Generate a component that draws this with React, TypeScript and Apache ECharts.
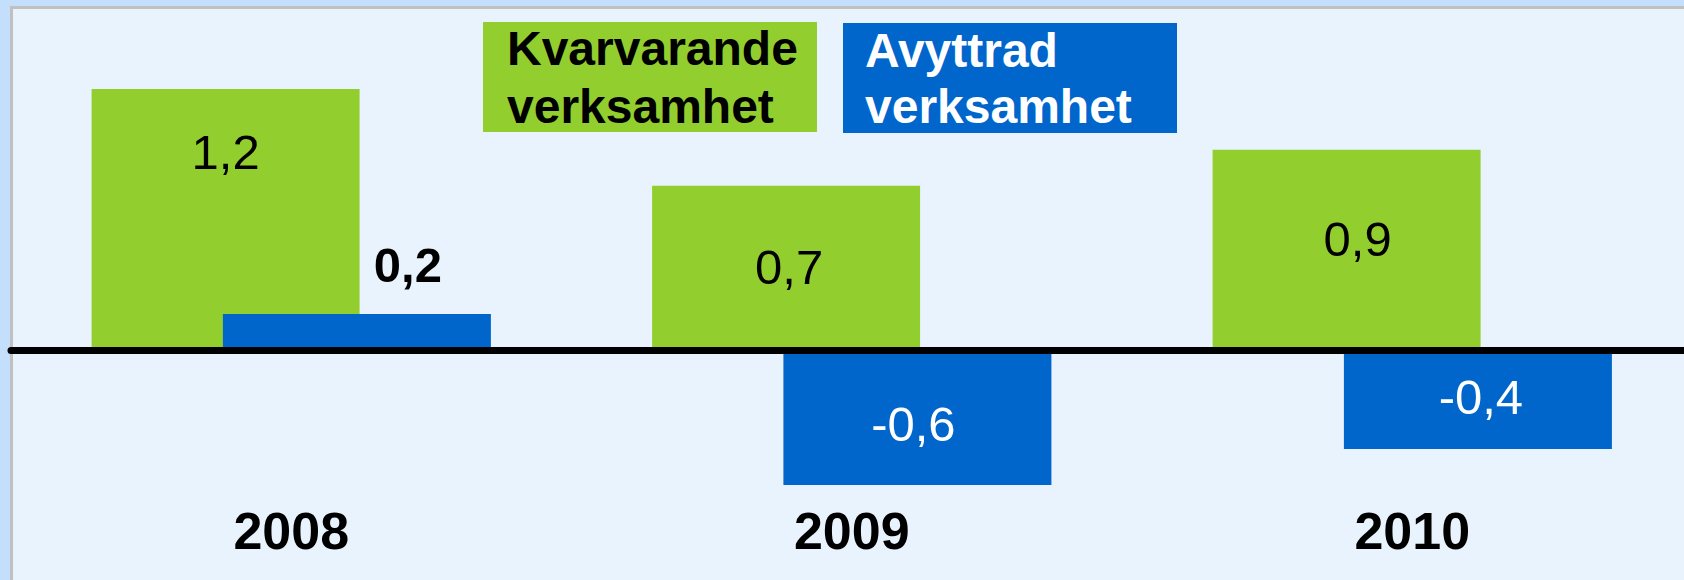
import React, { useEffect, useRef } from "react";
import * as echarts from "echarts";

const categories = ["2008", "2009", "2010"];
const kvarvarande = [1.16, 0.73, 0.89];
const avyttrad = [0.16, -0.6, -0.44];
const seriesNames = ["Kvarvarande verksamhet", "Avyttrad verksamhet"];

// label offsets (styling only)
const greenLabelOffsets = [[0, -68], [3, -1], [11, -11]];
const blueLabelOffsets = [[51, -67], [-4, 6], [3, -3]];

const FONT = "'Liberation Sans', Arial, Helvetica, sans-serif";
const GREEN = "#93CE2F";
const BLUE = "#0066CC";

const fmt = (p: any) => Number(p.value).toFixed(1).replace(".", ",");

export default function App() {
  const ref = useRef<HTMLDivElement>(null);
  useEffect(() => {
    if (!ref.current) return;
    const chart = echarts.init(ref.current, null, { renderer: "svg" });
    const greenData = kvarvarande.map((v, i) => ({
      value: v,
      label: { offset: greenLabelOffsets[i] },
    }));
    const blueData = avyttrad.map((v, i) => ({
      value: v,
      label:
        i === 0
          ? { offset: blueLabelOffsets[i], color: "#000", fontWeight: "bold" }
          : { offset: blueLabelOffsets[i] },
    }));
    chart.setOption({
      animation: false,
      backgroundColor: "transparent",
      grid: {
        left: 11,
        right: -8.5,
        top: 12.5,
        bottom: 83.75,
        containLabel: false,
        outerBoundsMode: "none",
      },
      xAxis: [
        {
          type: "category",
          data: categories,
          position: "top",
          z: 10,
          axisLine: { onZero: true, lineStyle: { color: "#000", width: 7 } },
          axisTick: { show: false },
          splitLine: { show: false },
          axisLabel: { show: false },
        },
        {
          type: "category",
          data: categories,
          position: "bottom",
          axisLine: { show: false, onZero: false },
          axisTick: { show: false },
          splitLine: { show: false },
          axisLabel: {
            margin: 9,
            fontSize: 52,
            fontWeight: "bold",
            color: "#000",
            fontFamily: FONT,
          },
        },
      ],
      yAxis: {
        type: "value",
        min: -0.65,
        max: 1.5,
        show: false,
        splitLine: { show: false },
      },
      graphic: [
        { type: "rect", z: -10, silent: true, shape: { x: 0, y: 0, width: 1684, height: 580 }, style: { fill: "#C3DFFC" } },
        { type: "rect", z: -9, silent: true, shape: { x: 10, y: 6, width: 1674, height: 574 }, style: { fill: "#C0C0C0" } },
        { type: "rect", z: -8, silent: true, shape: { x: 13, y: 9, width: 1671, height: 571 }, style: { fill: "#E9F3FD" } },
        { type: "rect", z: 20, shape: { x: 483, y: 22, width: 334, height: 110 }, style: { fill: GREEN } },
        { type: "text", z: 21, x: 507, y: 48.5, style: { text: "Kvarvarande", fill: "#000", font: `bold 48px ${FONT}`, verticalAlign: "middle", align: "left" } },
        { type: "text", z: 21, x: 507, y: 106.5, style: { text: "verksamhet", fill: "#000", font: `bold 48px ${FONT}`, verticalAlign: "middle", align: "left" } },
        { type: "rect", z: 20, shape: { x: 843, y: 23, width: 334, height: 110 }, style: { fill: BLUE } },
        { type: "text", z: 21, x: 865, y: 50.5, style: { text: "Avyttrad", fill: "#FFF", font: `bold 48px ${FONT}`, verticalAlign: "middle", align: "left" } },
        { type: "text", z: 21, x: 865, y: 106.5, style: { text: "verksamhet", fill: "#FFF", font: `bold 48px ${FONT}`, verticalAlign: "middle", align: "left" } },
      ],
      series: [
        {
          name: seriesNames[0],
          type: "bar",
          xAxisIndex: 0,
          data: greenData,
          barWidth: 268,
          barGap: "-51%",
          itemStyle: { color: GREEN },
          label: {
            show: true,
            position: "inside",
            formatter: fmt,
            fontSize: 49,
            color: "#000",
            fontFamily: FONT,
          },
        },
        {
          name: seriesNames[1],
          type: "bar",
          xAxisIndex: 0,
          data: blueData,
          barWidth: 268,
          barGap: "-51%",
          itemStyle: { color: BLUE },
          label: {
            show: true,
            position: "inside",
            formatter: fmt,
            fontSize: 49,
            color: "#FFF",
            fontFamily: FONT,
          },
        },
      ],
    });
    return () => chart.dispose();
  }, []);
  return (
    <div
      ref={ref}
      style={{ position: "absolute", left: 0, top: 0, width: 1684, height: 580 }}
    />
  );
}
